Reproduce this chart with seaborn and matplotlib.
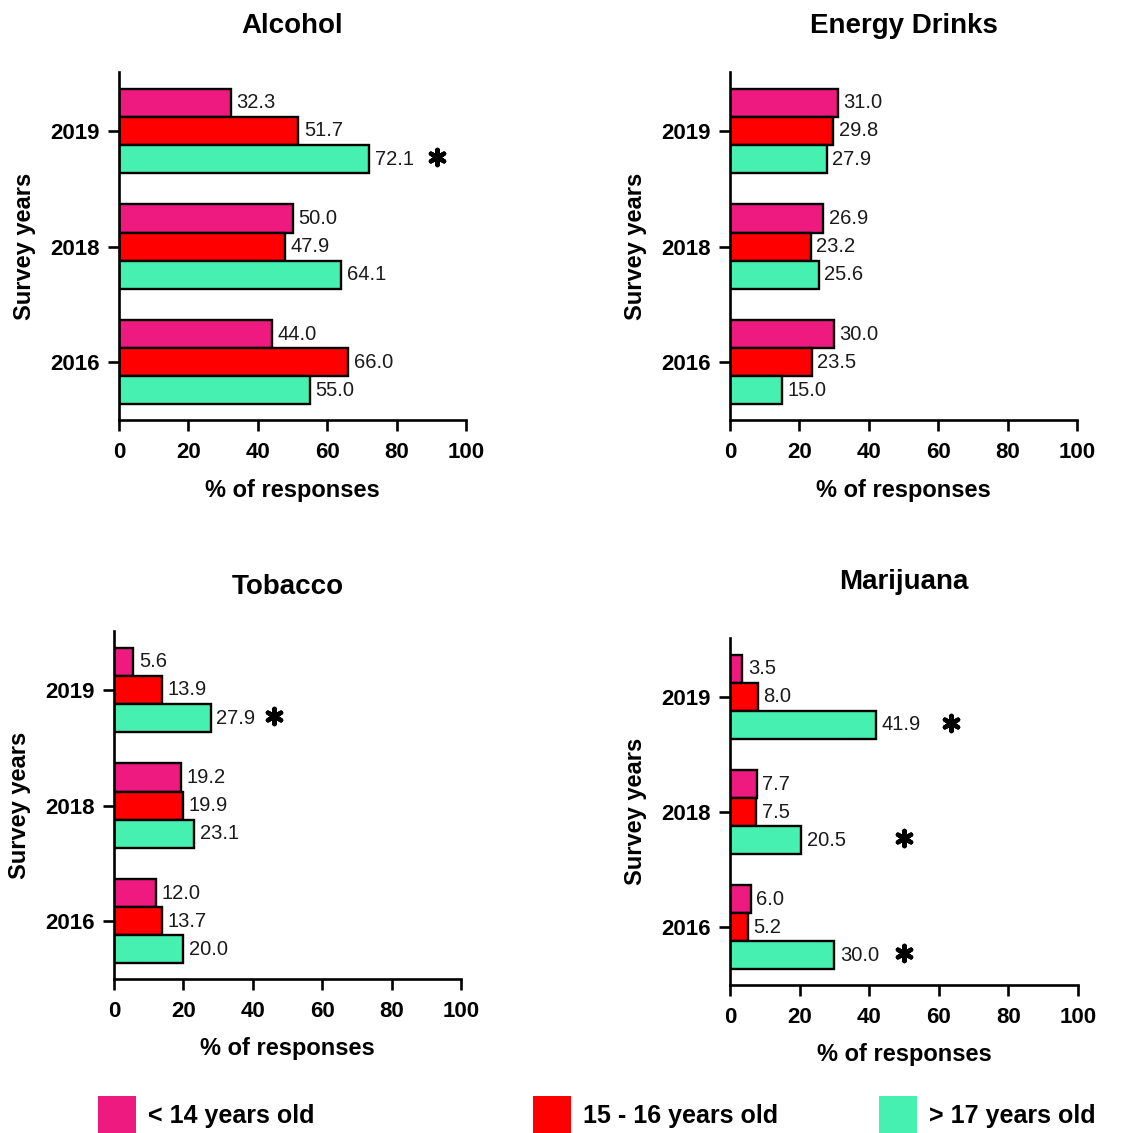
import pandas as pd
import matplotlib
matplotlib.use("Agg")
import matplotlib.pyplot as plt
import matplotlib.patches as mpatches
import seaborn as sns

sns.set_theme(style="ticks")
plt.rcParams["font.family"] = ["Liberation Sans", "DejaVu Sans"]
plt.rcParams["text.color"] = "black"
plt.rcParams["axes.labelcolor"] = "black"
plt.rcParams["xtick.color"] = "black"
plt.rcParams["ytick.color"] = "black"

years = ["2019", "2018", "2016"]
ages = ["< 14 years old", "15 - 16 years old", "> 17 years old"]
colors = ["#EE1A80", "#FF0000", "#45F0B0"]

# values per age group, in the order of `years`
alcohol_lt14 = [32.3, 50.0, 44.0]
alcohol_15_16 = [51.7, 47.9, 66.0]
alcohol_gt17 = [72.1, 64.1, 55.0]

energy_lt14 = [31.0, 26.9, 30.0]
energy_15_16 = [29.8, 23.2, 23.5]
energy_gt17 = [27.9, 25.6, 15.0]

tobacco_lt14 = [5.6, 19.2, 12.0]
tobacco_15_16 = [13.9, 19.9, 13.7]
tobacco_gt17 = [27.9, 23.1, 20.0]

marijuana_lt14 = [3.5, 7.7, 6.0]
marijuana_15_16 = [8.0, 7.5, 5.2]
marijuana_gt17 = [41.9, 20.5, 30.0]

# significance stars: (year, x position of the star) on the > 17 bar
alcohol_stars = [("2019", 91.5)]
energy_stars = []
tobacco_stars = [("2019", 46.0)]
marijuana_stars = [("2019", 63.5), ("2018", 50.0), ("2016", 50.0)]


def long_df(a, b, c):
    rows = []
    for age, vals in zip(ages, [a, b, c]):
        for yr, v in zip(years, vals):
            rows.append({"year": yr, "age": age, "pct": v})
    return pd.DataFrame(rows)


panels = [
    ("Alcohol", long_df(alcohol_lt14, alcohol_15_16, alcohol_gt17), alcohol_stars,
     [119, 72, 466, 420], 28),
    ("Energy Drinks", long_df(energy_lt14, energy_15_16, energy_gt17), energy_stars,
     [730, 72, 1077, 420], 28),
    ("Tobacco", long_df(tobacco_lt14, tobacco_15_16, tobacco_gt17), tobacco_stars,
     [114, 631, 461, 979], 27),
    ("Marijuana", long_df(marijuana_lt14, marijuana_15_16, marijuana_gt17), marijuana_stars,
     [730, 638, 1078, 985], 35),
]

W, H = 1127, 1133
fig = plt.figure(figsize=(W / 100, H / 100), dpi=100)

for title, df, stars, (x0, y0, x1, y1), tpad in panels:
    ax = fig.add_axes([x0 / W, 1 - y1 / H, (x1 - x0) / W, (y1 - y0) / H])
    sns.barplot(data=df, y="year", x="pct", hue="age", order=years, hue_order=ages,
                palette=colors, orient="h", width=0.73, edgecolor="black",
                linewidth=1.7, saturation=1, legend=False, ax=ax)
    for cont in ax.containers:
        ax.bar_label(cont, fmt="%.1f", padding=4, fontsize=14.5, color="#1a1a1a")
    green = ax.containers[2]
    for yr, xs in stars:
        bar = green[years.index(yr)]
        yc = bar.get_y() + bar.get_height() / 2
        ax.scatter([xs], [yc - 0.02], marker=(6, 2, 0), s=120, linewidths=3.2,
                   color="black", zorder=5, clip_on=False)
    ax.set_xlim(0, 100)
    ax.set_ylim(2.5, -0.51)
    ax.set_xticks(range(0, 101, 20))
    sns.despine(ax=ax)
    for s in ["left", "bottom"]:
        ax.spines[s].set_linewidth(1.9)
        ax.spines[s].set_color("black")
    ax.tick_params(axis="both", length=8, width=1.9, color="black", pad=6)
    ax.tick_params(axis="x", pad=8)
    for lab in ax.get_xticklabels() + ax.get_yticklabels():
        lab.set_fontsize(16)
        lab.set_fontweight("bold")
    ax.set_xlabel("% of responses", fontsize=17, fontweight="bold", labelpad=11)
    ax.set_ylabel("Survey years", fontsize=17, fontweight="bold", labelpad=10)
    ax.set_title(title, fontsize=20, fontweight="bold", pad=tpad)

legend_x = [98, 533, 879]
for age, col, lx in zip(ages, colors, legend_x):
    h = mpatches.Patch(facecolor=col, edgecolor="none", label=age)
    fig.legend(handles=[h], loc="center left", bbox_to_anchor=(lx / W, 1 - 1115 / H),
               frameon=False, borderpad=0, borderaxespad=0, handlelength=1.5,
               handleheight=2.0, handletextpad=0.5,
               prop={"family": ["Liberation Sans"], "weight": "bold", "size": 18})

fig.savefig("out.png", dpi=100)
